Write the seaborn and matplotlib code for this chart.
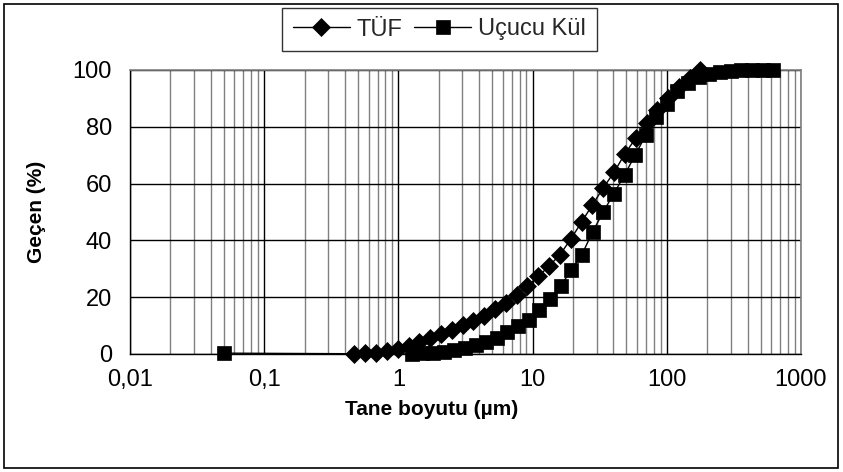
import matplotlib
matplotlib.use("Agg")
import matplotlib.pyplot as plt
import seaborn as sns
import pandas as pd
from matplotlib.ticker import LogLocator, NullFormatter
from matplotlib.patches import Rectangle

# ---- data ----
series_names = ["TÜF", "Uçucu Kül"]

tuf_size = [0.47, 0.566, 0.681, 0.82, 0.988, 1.19, 1.43, 1.72, 2.08, 2.5, 3.01,
            3.62, 4.36, 5.25, 6.32, 7.61, 9.16, 11.0, 13.3, 16.0, 19.3, 23.2,
            27.9, 33.6, 40.5, 48.7, 58.7, 70.6, 85.0, 102, 123, 148, 178]
tuf_pass = [0, 0.2, 0.5, 1.0, 1.8, 2.9, 4.2, 5.7, 7.1, 8.6, 10.1,
            11.5, 13.4, 15.7, 18.0, 20.8, 24.0, 27.3, 31.0, 35.0, 40.5, 46.5,
            52.5, 58.5, 64.0, 70.5, 76.0, 81.5, 86.0, 90.0, 94.0, 97.3, 100]

kul_size = [0.05, 1.26, 1.51, 1.81, 2.17, 2.61, 3.13, 3.76, 4.51, 5.41, 6.5,
            7.8, 9.35, 11.2, 13.5, 16.2, 19.4, 23.3, 28.0, 33.6, 40.3, 48.4,
            58.0, 69.7, 83.6, 100, 120, 144, 173, 208, 250, 300, 360, 432,
            518, 622]
kul_pass = [0.3, 0, 0.2, 0.5, 0.8, 1.5, 2.2, 3.2, 4.3, 5.8, 7.6,
            9.7, 11.8, 15.4, 19.5, 24.0, 29.5, 35.0, 43.0, 50.0, 56.5, 63.0,
            70.0, 77.0, 83.5, 88.0, 92.5, 95.5, 97.5, 98.5, 99.2, 99.6, 99.9,
            100, 100, 100]

x_ticks = [0.01, 0.1, 1, 10, 100, 1000]
x_tick_labels = ["0,01", "0,1", "1", "10", "100", "1000"]
y_ticks = [0, 20, 40, 60, 80, 100]
x_label = "Tane boyutu (µm)"
y_label = "Geçen (%)"

# ---- style ----
sns.set_style("white")
plt.rcParams["font.family"] = ["Liberation Sans", "DejaVu Sans"]

W, H = 843, 472
fig = plt.figure(figsize=(W / 100, H / 100), dpi=100)
fig.patch.set_facecolor("white")
ax = fig.add_axes([130 / W, 1 - 354 / H, (801 - 130) / W, (354 - 70) / H])

df_tuf = pd.DataFrame({"size": tuf_size, "pass": tuf_pass})
df_kul = pd.DataFrame({"size": kul_size, "pass": kul_pass})

sns.lineplot(data=df_tuf, x="size", y="pass", ax=ax, color="black", lw=1,
             marker="D", markersize=9, markeredgecolor="black",
             markeredgewidth=0.5, label=series_names[0], estimator=None,
             sort=False, clip_on=False, zorder=4)
sns.lineplot(data=df_kul, x="size", y="pass", ax=ax, color="black", lw=1,
             marker="s", markersize=10, markeredgecolor="black",
             markeredgewidth=0.5, label=series_names[1], estimator=None,
             sort=False, clip_on=False, zorder=5)

ax.set_xscale("log")
ax.set_xlim(x_ticks[0], x_ticks[-1])
ax.set_ylim(y_ticks[0], y_ticks[-1])
ax.set_xticks(x_ticks, labels=x_tick_labels)
ax.set_yticks(y_ticks)
ax.xaxis.set_minor_locator(LogLocator(base=10, subs=[2, 3, 4, 5, 6, 7, 8, 9]))
ax.xaxis.set_minor_formatter(NullFormatter())

ax.grid(which="minor", axis="x", color="#808080", lw=1)
ax.grid(which="major", axis="x", color="black", lw=1)
ax.grid(which="major", axis="y", color="black", lw=1)
ax.set_axisbelow(True)

for s in ["left", "bottom"]:
    ax.spines[s].set_color("black")
    ax.spines[s].set_linewidth(1)
for s in ["top", "right"]:
    ax.spines[s].set_color("#808080")
    ax.spines[s].set_linewidth(1.2)

ax.tick_params(axis="both", which="major", direction="out", length=6,
               width=1, color="black", labelsize=17, labelcolor="black")
ax.tick_params(axis="x", which="major", pad=5)
ax.tick_params(axis="y", which="major", pad=7)
ax.tick_params(axis="x", which="minor", length=0)

ax.set_xlabel(x_label, fontsize=15, fontweight="bold", color="black")
ax.set_ylabel(y_label, fontsize=15, fontweight="bold", color="black")
ax.xaxis.set_label_coords((432 - 130) / 671, (354 - 400) / 284)
ax.yaxis.set_label_coords((37 - 130) / 671, 0.5)
ax.yaxis.label.set_verticalalignment("center")

leg = ax.legend(loc="center", bbox_to_anchor=(439.5 / W, 1 - 29.5 / H),
                bbox_transform=fig.transFigure, ncol=2, fontsize=17,
                frameon=True, fancybox=False, shadow=False, borderpad=0.45,
                handlelength=2.4, handletextpad=0.3, columnspacing=0.5,
                borderaxespad=0)
leg.get_frame().set_edgecolor("black")
leg.get_frame().set_linewidth(1)

fig.patches.append(Rectangle((4 / W, 4 / H), (838 - 4) / W, (468 - 4) / H,
                             transform=fig.transFigure, fill=False,
                             edgecolor="black", lw=1.2))

fig.savefig("out.png", dpi=100, facecolor="white")
